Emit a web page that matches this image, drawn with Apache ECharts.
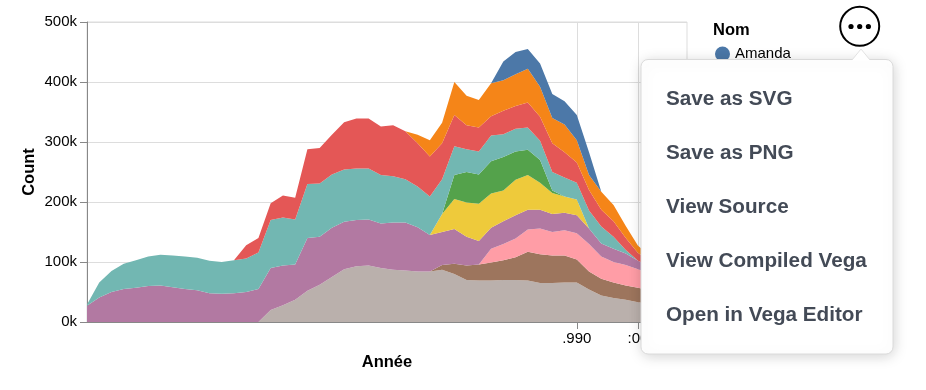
<!DOCTYPE html>
<html>
<head>
<meta charset="utf-8">
<script src="https://cdn.jsdelivr.net/npm/echarts@6.0.0/dist/echarts.min.js"></script>
<style>
  html, body { margin: 0; padding: 0; background: #fff; }
  #chart { width: 926px; height: 390px; }
</style>
</head>
<body>
<div id="chart"></div>
<script>
// ---- Data (values in thousands) ----
const years = ['1910','1912','1914','1916','1918','1920','1922','1924','1926','1928',
  '1930','1932','1934','1936','1938','1940','1942','1944','1946','1948',
  '1950','1952','1954','1956','1958','1960','1962','1964','1966','1968',
  '1970','1972','1974','1976','1978','1980','1982','1984','1986','1988',
  '1990','1992','1994','1996','1998','2000','2002','2004','2006','2008'];

const xTickYears = ['1990', '2000'];
const xTickLabels = ['.990', ':00'];
const yTicks = [0, 100, 200, 300, 400, 500];

// stacked bottom -> top
const gray = [0,0,0,0,0,0,0,0,0,0, 0,0,0,0,0,20,28,37,52,62,
  75,88,93,94,90,87,86,84,84,87, 80,70,69,69,70,70,69,65,65,66,
  66,54,44,40,37,33,30,28,26,24];
const brown = [0,0,0,0,0,0,0,0,0,0, 0,0,0,0,0,0,0,0,0,0,
  0,0,0,0,0,0,0,0,0,8, 17,24,27,30,33,38,48,48,46,45,
  38,30,28,26,24,24,23,20,18,16];
const pink = [0,0,0,0,0,0,0,0,0,0, 0,0,0,0,0,0,0,0,0,0,
  0,0,0,0,0,0,0,0,0,0, 0,0,0,23,27,31,37,43,39,42,
  44,46,37,34,34,31,27,24,22,20];
const purple = [27,41,50,55,57,60,61,58,55,53, 48,47,48,50,55,70,66,59,88,80,
  82,79,77,77,74,79,80,74,61,55, 58,48,39,35,38,39,33,31,30,29,
  30,26,22,22,19,14,12,11,10,10];
const yellow = [0,0,0,0,0,0,0,0,0,0, 0,0,0,0,0,0,0,0,0,0,
  0,0,0,0,0,0,0,0,0,30, 50,57,62,57,51,59,58,45,35,27,
  26,0,0,0,0,0,0,0,0,0];
const green = [0,0,0,0,0,0,0,0,0,0, 0,0,0,0,0,0,0,0,0,0,
  0,0,0,0,0,0,0,0,0,0, 40,51,49,54,56,47,42,38,4,0,
  0,0,0,0,0,0,0,0,0,0];
const teal = [2,25,35,42,46,49,51,53,54,54, 54,53,55,56,61,80,80,75,90,89,
  89,87,86,85,81,77,72,68,64,58, 48,38,38,43,38,38,37,32,31,32,
  28,30,28,20,6,0,0,0,0,0];
const red = [0,0,0,0,0,0,0,0,0,0, 0,0,0,22,24,28,37,36,58,59,
  66,79,83,83,81,85,80,72,67,60, 52,40,40,32,39,38,42,40,48,42,
  34,34,28,26,20,13,10,7,6,5];
const orange = [0,0,0,0,0,0,0,0,0,0, 0,0,0,0,0,0,0,0,0,0,
  0,0,0,0,0,0,0,14,27,34, 55,49,46,55,51,53,56,50,42,46,
  37,25,30,27,20,12,8,7,6,5];
const blue = [0,0,0,0,0,0,0,0,0,0, 0,0,0,0,0,0,0,0,0,0,
  0,0,0,0,0,0,0,0,0,0, 0,0,0,0,31,37,33,39,40,39,
  42,38,0,0,0,0,0,0,0,0];

const seriesNames = ['Nom 10','Nom 9','Nom 8','Nom 7','Nom 6','Nom 5','Nom 4','Nom 3','Nom 2','Amanda'];
const seriesData = [gray, brown, pink, purple, yellow, green, teal, red, orange, blue];
const seriesColors = ['#bab0ac','#9d755d','#ff9da6','#b279a2','#eeca3b','#54a24b','#72b7b2','#e45756','#f58518','#4c78a8'];

const menuItems = ['Save as SVG', 'Save as PNG', 'View Source', 'View Compiled Vega', 'Open in Vega Editor'];

// ---- Chart ----
const FONT = '"Liberation Sans", Arial, Helvetica, sans-serif';
const chart = echarts.init(document.getElementById('chart'), null, { renderer: 'canvas' });
const showTick = (idx, val) => xTickYears.indexOf(val) >= 0;

const series = seriesData.map((d, i) => ({
  name: seriesNames[i],
  type: 'line',
  stack: 'total',
  data: d,
  symbol: 'none',
  showSymbol: false,
  lineStyle: { width: 0 },
  areaStyle: { color: seriesColors[i], opacity: 1 },
  itemStyle: { color: seriesColors[i] },
  emphasis: { disabled: true }
}));

const graphics = [
  { type: 'text', x: 29, y: 172, rotation: Math.PI / 2, z: 50,
    style: { text: 'Count', font: 'bold 16.5px ' + FONT, fill: '#000', align: 'center', verticalAlign: 'middle' } },
  { type: 'text', x: 387, y: 362, z: 50,
    style: { text: 'Année', font: 'bold 16.5px ' + FONT, fill: '#000', align: 'center', verticalAlign: 'middle' } },
  { type: 'text', x: 713, y: 30, z: 50,
    style: { text: 'Nom', font: 'bold 16.5px ' + FONT, fill: '#000', align: 'left', verticalAlign: 'middle' } },
  // action button
  { type: 'circle', z: 100, shape: { cx: 859.7, cy: 26.3, r: 19.5 },
    style: { fill: '#fff', stroke: '#000', lineWidth: 2 } },
  { type: 'circle', z: 101, shape: { cx: 851, cy: 26.5, r: 2.6 }, style: { fill: '#000' } },
  { type: 'circle', z: 101, shape: { cx: 859.7, cy: 26.5, r: 2.6 }, style: { fill: '#000' } },
  { type: 'circle', z: 101, shape: { cx: 868.4, cy: 26.5, r: 2.6 }, style: { fill: '#000' } },
  // menu box
  { type: 'rect', z: 100, shape: { x: 641, y: 59.5, width: 252, height: 294.5, r: 7 },
    style: { fill: '#fff', stroke: '#dadada', lineWidth: 1,
      shadowBlur: 14, shadowColor: 'rgba(0,0,0,0.18)', shadowOffsetX: 1, shadowOffsetY: 2 } },
  { type: 'polygon', z: 102, shape: { points: [[852, 60.5], [861, 49], [870, 60.5]] },
    style: { fill: '#fff' } },
  { type: 'polyline', z: 102, shape: { points: [[852, 60], [861, 49], [870, 60]] },
    style: { stroke: '#e2e2e2', lineWidth: 1, fill: null } }
];
menuItems.forEach((t, i) => {
  graphics.push({ type: 'text', x: 666, y: 99 + i * 54.1, z: 103,
    style: { text: t, font: 'bold 20.7px ' + FONT, fill: '#434a56', align: 'left', verticalAlign: 'middle' } });
});

chart.setOption({
  animation: false,
  textStyle: { fontFamily: FONT },
  grid: { left: 87, right: 239, top: 22, bottom: 68, show: true, borderColor: '#ddd', borderWidth: 1, backgroundColor: 'transparent' },
  legend: {
    data: [{ name: 'Amanda', icon: 'circle' }],
    orient: 'vertical', left: 715, top: 46.5, padding: 0,
    itemWidth: 15, itemHeight: 15, itemGap: 8, selectedMode: false,
    textStyle: { fontSize: 15, color: '#000', fontFamily: FONT }
  },
  xAxis: {
    type: 'category', data: years, boundaryGap: false,
    axisLine: { show: true, lineStyle: { color: '#888', width: 1 } },
    axisTick: { show: true, interval: showTick, length: 7, lineStyle: { color: '#888' } },
    axisLabel: { interval: showTick, margin: 9, fontSize: 15, color: '#000', fontFamily: FONT,
      formatter: v => { const k = xTickYears.indexOf(v); return k >= 0 ? xTickLabels[k] : ''; } },
    splitLine: { show: true, interval: showTick, lineStyle: { color: '#ddd', width: 1 } }
  },
  yAxis: {
    type: 'value', min: yTicks[0], max: yTicks[yTicks.length - 1], interval: 100,
    axisLine: { show: true, lineStyle: { color: '#888', width: 1 } },
    axisTick: { show: true, length: 7, lineStyle: { color: '#888' } },
    axisLabel: { formatter: '{value}k', margin: 10, fontSize: 15, color: '#000', fontFamily: FONT },
    splitLine: { show: true, lineStyle: { color: '#ddd', width: 1 } }
  },
  series: series,
  graphic: graphics
});
</script>
</body>
</html>
